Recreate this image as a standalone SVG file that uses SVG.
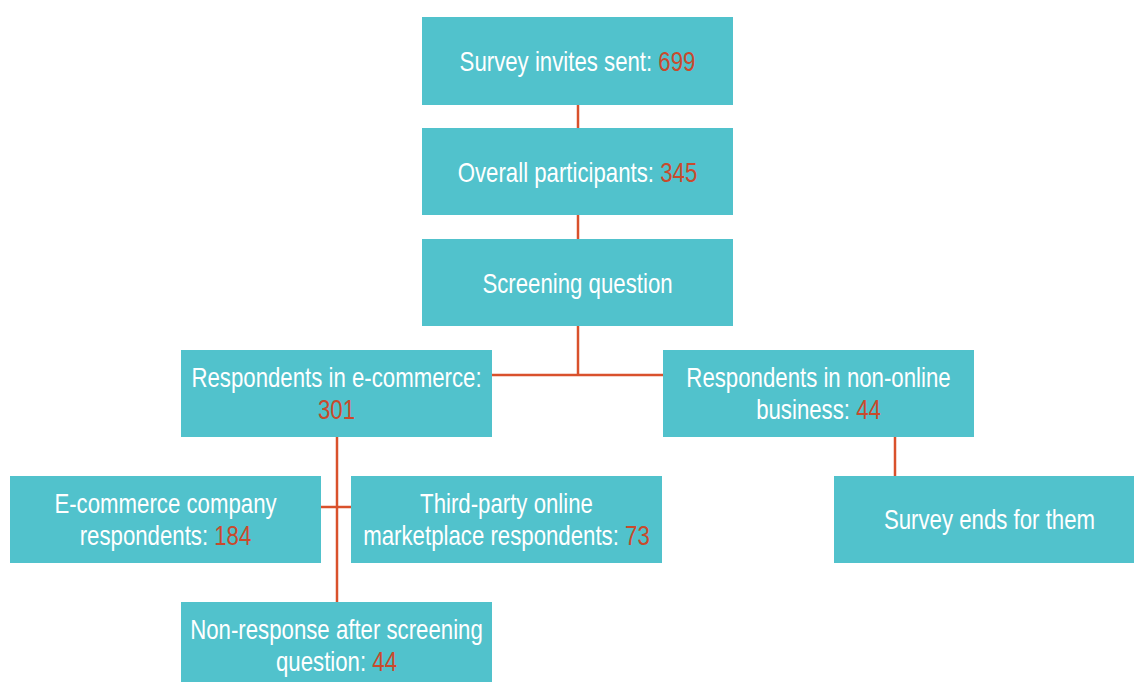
<svg xmlns="http://www.w3.org/2000/svg" width="1134" height="682" viewBox="0 0 1134 682">
<style>
.box{fill:#51C2CC}
.t{font-family:"Liberation Sans",Arial,sans-serif;font-size:27px;fill:#FFFFFF;text-anchor:middle}
.n{fill:#C94A2C}
.c{stroke:#D9512C;stroke-width:2.5;fill:none}
</style>
<rect width="1134" height="682" fill="#FFFFFF"/>
<g id="connectors">
<line class="c" x1="578" y1="104" x2="578" y2="128"/>
<line class="c" x1="578" y1="215" x2="578" y2="239"/>
<line class="c" x1="578" y1="326" x2="578" y2="375"/>
<line class="c" x1="492" y1="375" x2="663" y2="375"/>
<line class="c" x1="337" y1="437" x2="337" y2="602"/>
<line class="c" x1="321" y1="507" x2="351" y2="507"/>
<line class="c" x1="895" y1="437" x2="895" y2="476"/>
</g>
<g id="invites">
<rect class="box" x="422" y="17" width="311" height="88"/>
<text class="t" transform="translate(577.5 71) scale(0.823 1)">Survey invites sent: <tspan class="n">699</tspan></text>
</g>
<g id="participants">
<rect class="box" x="422" y="128" width="311" height="87"/>
<text class="t" transform="translate(577.5 182) scale(0.823 1)">Overall participants: <tspan class="n">345</tspan></text>
</g>
<g id="screening">
<rect class="box" x="422" y="239" width="311" height="87"/>
<text class="t" transform="translate(577.5 293) scale(0.823 1)">Screening question</text>
</g>
<g id="ecommerce">
<rect class="box" x="181" y="350" width="311" height="87"/>
<text class="t" transform="translate(336.5 387) scale(0.823 1)">Respondents in e-commerce:</text>
<text class="t n" transform="translate(336.5 419) scale(0.823 1)">301</text>
</g>
<g id="nononline">
<rect class="box" x="663" y="350" width="311" height="87"/>
<text class="t" transform="translate(818.5 387) scale(0.823 1)">Respondents in non-online</text>
<text class="t" transform="translate(818.5 419) scale(0.823 1)">business: <tspan class="n">44</tspan></text>
</g>
<g id="company">
<rect class="box" x="10" y="476" width="311" height="87"/>
<text class="t" transform="translate(165.5 513) scale(0.823 1)">E-commerce company</text>
<text class="t" transform="translate(165.5 545) scale(0.823 1)">respondents: <tspan class="n">184</tspan></text>
</g>
<g id="marketplace">
<rect class="box" x="351" y="476" width="311" height="87"/>
<text class="t" transform="translate(506.5 513) scale(0.823 1)">Third-party online</text>
<text class="t" transform="translate(506.5 545) scale(0.823 1)">marketplace respondents: <tspan class="n">73</tspan></text>
</g>
<g id="ends">
<rect class="box" x="834" y="476" width="311" height="87"/>
<text class="t" transform="translate(989.5 529) scale(0.823 1)">Survey ends for them</text>
</g>
<g id="nonresponse">
<rect class="box" x="181" y="602" width="311" height="87"/>
<text class="t" transform="translate(336.5 639) scale(0.823 1)">Non-response after screening</text>
<text class="t" transform="translate(336.5 671) scale(0.823 1)">question: <tspan class="n">44</tspan></text>
</g>
</svg>
